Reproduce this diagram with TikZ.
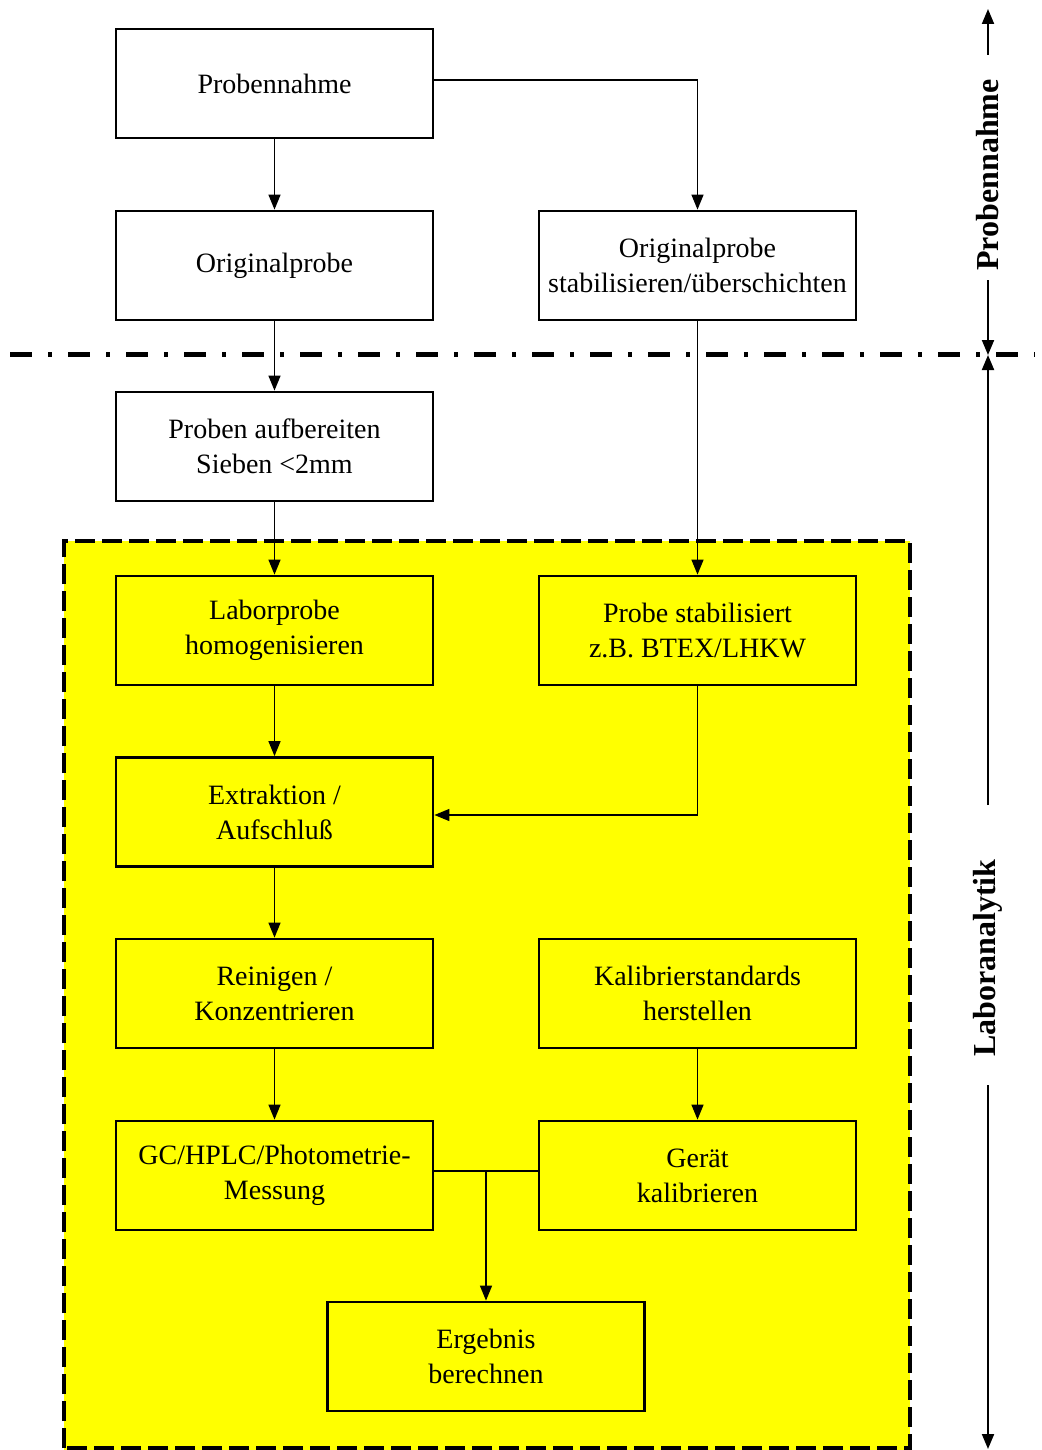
\documentclass[tikz,border=0pt]{standalone}
\usepackage{fontspec}
\setmainfont{Liberation Serif}
\usetikzlibrary{arrows.meta}
\definecolor{yl}{RGB}{255,255,0}
\begin{document}
\begin{tikzpicture}[x=1pt,y=-1pt,
  box/.style={draw,line width=2.8pt,minimum width=317pt,minimum height=109pt,inner sep=0pt,align=center,font=\fontsize{28}{35}\selectfont},
  conn/.style={line width=1.4pt,-{Triangle[length=15pt,width=12pt]}},
  plain/.style={line width=1.4pt},
  axarr/.style={line width=2pt,-{Triangle[length=15pt,width=12pt]}},
  side/.style={rotate=90,font=\fontsize{32}{38}\selectfont\bfseries,inner sep=0pt}]
\useasboundingbox (0,0) rectangle (1041,1450);
% yellow region
\fill[yl] (64,541) rectangle (910,1450);
\draw[line width=4pt,dash pattern=on 20pt off 7pt] (64,1448) -- (64,541) -- (910,541) -- (910,1448) -- cycle;
% dash-dot separator
\draw[line width=5pt,dash pattern=on 22pt off 16pt on 4pt off 16pt] (10,354) -- (1035,354);
% boxes
\node[box] (pn) at (274.5,83.5) {Probennahme};
\node[box] (op) at (274.5,265.5) {Originalprobe};
\node[box] (os) at (697.5,265.5) {Originalprobe\\stabilisieren/überschichten};
\node[box] (pa) at (274.5,446.5) {Proben aufbereiten\\Sieben <2mm};
\node[box] (lp) at (274.5,630.5) {Laborprobe\\homogenisieren};
\node[box] (ps) at (697.5,630.5) {Probe stabilisiert\\z.B. BTEX/LHKW};
\node[box] (ex) at (274.5,812) {Extraktion /\\Aufschluß};
\node[box] (rk) at (274.5,993.5) {Reinigen /\\Konzentrieren};
\node[box] (ks) at (697.5,993.5) {Kalibrierstandards\\herstellen};
\node[box] (gc) at (274.5,1175.5) {GC/HPLC/Photometrie-\\Messung};
\node[box] (gk) at (697.5,1175.5) {Gerät\\kalibrieren};
\node[box] (er) at (486,1356.5) {Ergebnis\\berechnen};
% connectors
\draw[conn] (pn.east |- 0,80) -| (os.north);
\draw[conn] (pn) -- (op);
\draw[conn] (op) -- (pa);
\draw[conn] (pa) -- (lp);
\draw[conn] (os) -- (ps);
\draw[conn] (lp) -- (ex);
\draw[conn] (ps.south) |- (ex.east |- 0,815);
\draw[conn] (ex) -- (rk);
\draw[conn] (rk) -- (gc);
\draw[conn] (ks) -- (gk);
\coordinate (jn) at (er.north |- 0,1171);
\draw[plain] (gc.east |- jn) -- (gk.west |- jn);
\draw[conn] (jn) -- (er.north);
% side axis
\node[side] (t1) at (988,175) {Probennahme};
\node[side] (t2) at (988,958) {Laboranalytik};
\coordinate (a0) at (988,9);
\coordinate (a1) at (988,55);
\coordinate (a2) at (988,280);
\coordinate (a3) at (988,355);
\coordinate (a4) at (988,805);
\coordinate (a5) at (988,1085);
\coordinate (a6) at (988,1449);
\draw[axarr] (a1) -- (a0);
\draw[axarr] (a2) -- (a3);
\draw[axarr] (a4) -- (a3);
\draw[axarr] (a5) -- (a6);
\end{tikzpicture}
\end{document}
